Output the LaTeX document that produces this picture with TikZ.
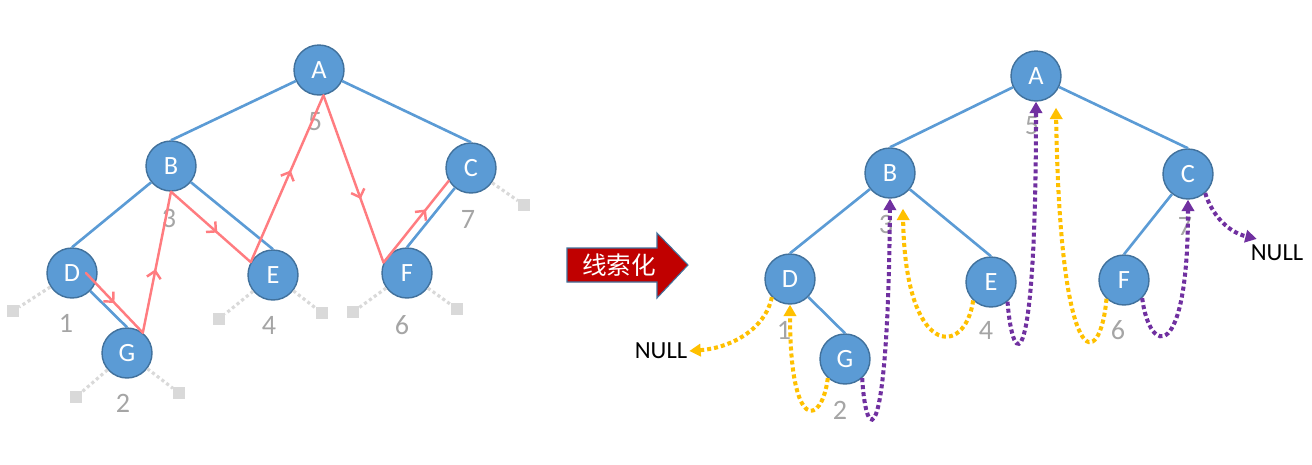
\documentclass[tikz,border=0pt]{standalone}
\usepackage{fontspec}
\setmainfont{Carlito}
\newfontfamily\cjk{Noto Sans CJK SC}
\usepackage{tikz}
\usetikzlibrary{arrows.meta}
\usetikzlibrary{decorations.markings}
\definecolor{nodeblue}{RGB}{91,155,213}
\definecolor{nodeedge}{RGB}{65,113,156}
\definecolor{edgeblue}{RGB}{91,155,213}
\definecolor{numgray}{RGB}{165,165,165}
\definecolor{nullgray}{RGB}{217,217,217}
\definecolor{redline}{RGB}{255,124,128}
\definecolor{predyellow}{RGB}{255,192,0}
\definecolor{succpurple}{RGB}{112,48,160}
\definecolor{arrowred}{RGB}{192,0,0}
\tikzset{%
    treenode/.style={circle,fill=nodeblue,draw=nodeedge,line width=0.8pt,minimum size=1cm,
        inner sep=0pt,text=white,font={\fontsize{15pt}{15pt}\selectfont}},
    numlabel/.style={text=numgray,inner sep=0pt,font={\fontsize{16pt}{16pt}\selectfont}},
    treeedge/.style={draw=edgeblue,line width=1.5pt},
    nullbox/.style={fill=nullgray,minimum size=0.23cm,inner sep=0pt},
    nulllink/.style={draw=nullgray,line width=1.8pt,dash pattern=on 1.8pt off 1.6pt},
    redseg/.style={draw=redline,line width=1.4pt,line cap=round,postaction={decorate},
        decoration={markings,mark=at position #1 with {\arrow{Straight Barb[length=4pt,width=8pt]}}}},
    redseg/.default=0.55,
    threadline/.style={line width=2.3pt,dash pattern=on 2.3pt off 1.7pt,-{Triangle[length=6.5pt,width=7pt]}},
    pred/.style={threadline,draw=predyellow},
    succ/.style={threadline,draw=succpurple},
    nulltext/.style={inner sep=1pt,font={\fontsize{14pt}{14pt}\selectfont}},
}
\begin{document}
\begin{tikzpicture}[x=0.02cm,y=-0.02cm]
  \useasboundingbox (0,0) rectangle (1312,464);

  % left tree
  \foreach \n/\x/\y in {A/319/70,B/171/166,C/471/168,D/72/273,E/273/275,F/407/273,G/127/353}
    \node[treenode] (l\n) at (\x,\y) {\n};
  \foreach \t/\x/\y in {1/66/323,2/123/403,3/169/218,4/269/325,5/315/122,6/402/325,7/468/219}
    \node[numlabel] (ln\t) at (\x,\y) {\t};
  \foreach \p/\c in {A/B,A/C,B/D,B/E,D/G,C/F}
    \draw[treeedge] (l\p) -- (l\c.north);
  \foreach \s/\p/\x/\y in {D1/D/13/311,G1/G/76/397,G2/G/179/393,E1/E/219/319,E2/E/322/313,
                          F1/F/353/312,F2/F/457/309,C2/C/524/205} {
    \node[nullbox] (s\s) at (\x,\y) {};
    \draw[nulllink] (l\p) -- (s\s);
  }
  \draw[redseg=0.5] ([shift={(14,0)}]lD.center) -- (lG.52);
  \draw[redseg=0.45] (lG.52) -- (lB.south);
  \draw[redseg=0.58] (lB.south) -- (lE.150);
  \draw[redseg=0.55] (lE.150) -- (lA.-80);
  \draw[redseg=0.62] (lA.-80) -- (lF.156);
  \draw[redseg=0.65] (lF.156) -- (lC.-150);

  % middle arrow
  \draw[fill=arrowred,draw=nodeedge,line width=0.6pt]
    (567,248) -- (657,248) -- (657,233) -- (688,265) -- (657,298) -- (657,282) -- (567,282) -- cycle;
  \node[text=white,font={\cjk\fontsize{14pt}{14pt}\selectfont}] (threadtext) at (619,265) {线索化};

  % right tree
  \foreach \n/\x/\y in {A/1036/76,B/890/173,C/1188/174,D/790/279,E/991/282,F/1124/280,G/845/359}
    \node[treenode] (r\n) at (\x,\y) {\n};
  \foreach \t/\x/\y in {1/784/330,2/840/410,3/886/224,4/986/330,5/1032/126,6/1118/330,7/1185/226}
    \node[numlabel] (rn\t) at (\x,\y) {\t};
  \foreach \p/\c in {A/B,A/C,B/D,B/E,D/G,C/F}
    \draw[treeedge] (r\p) -- (r\c.north);
  \node[nulltext] (nullL) at (661,351) {NULL};
  \node[nulltext] (nullR) at (1277,253) {NULL};

  \draw[pred] (rD.-135) .. controls (765,330) and (730,348) .. (nullL.east);
  \draw[pred] (rG.-132) .. controls (822,425) and (790,435) .. (rD.south);
  \draw[pred] (rE.-134) .. controls (965,358) and (905,358) .. ([shift={(13,10)}]rB.south);
  \draw[pred] (rF.-133) .. controls (1100,372) and (1060,377) .. ([shift={(20,6)}]rA.south);
  \draw[succ] (rG.-48) .. controls (866,446) and (888,456) .. (rB.south);
  \draw[succ] (rE.-50) .. controls (1013,372) and (1036,382) .. (rA.south);
  \draw[succ] (rF.-45) .. controls (1150,357) and (1188,362) .. (rC.south);
  \draw[succ] (rC.-48) .. controls (1212,215) and (1228,232) .. ([shift={(8,-4)}]nullR.north west);
\end{tikzpicture}
\end{document}
